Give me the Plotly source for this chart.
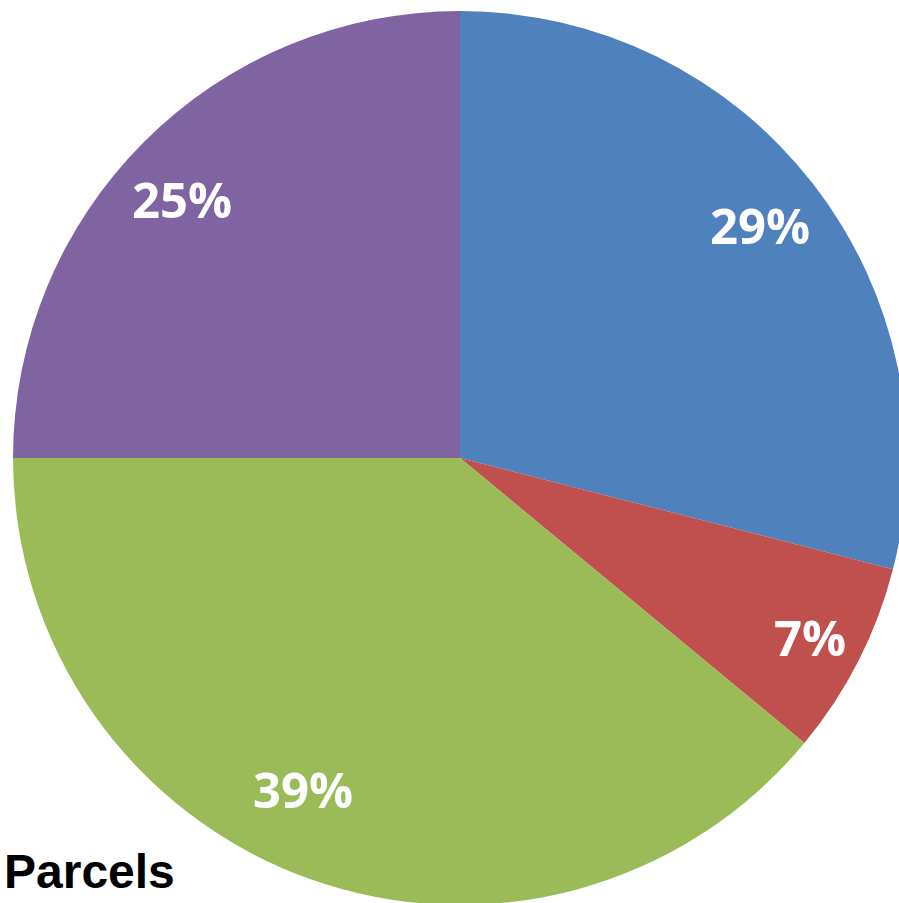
import math
import plotly.graph_objects as go

# parcel shares, clockwise from 12 o'clock
categories = ["A", "B", "C", "D"]
shares = [29, 7, 39, 25]
colors = ["#4F81BD", "#C0504D", "#9BBB59", "#8064A2"]
title = "Parcels"

# label placement (fraction of radius, angular nudge in degrees)
label_r = [0.85, 0.88, 0.82, 0.85]
label_nudge = [0, 0, 5.5, -2]

# figure a bit wider than the window: the pie runs off the right edge
W, H = 910, 906
cx, cy, r = 460, 458, 447  # pie centre and radius in px

fig = go.Figure()
fig.add_trace(go.Pie(
    labels=categories,
    values=shares,
    sort=False,
    direction="clockwise",
    rotation=0,
    marker=dict(colors=colors, line=dict(width=0)),
    textinfo="none",
    hoverinfo="label+value",
    showlegend=False,
    domain=dict(x=[(cx - r) / W, (cx + r) / W], y=[(H - cy - r) / H, (H - cy + r) / H]),
))

# percentage labels, placed from the cumulative shares
total = sum(shares)
cum = 0
for v, fr, nd in zip(shares, label_r, label_nudge):
    mid = (cum + v / 2) / total * 360 + nd
    cum += v
    px = cx + fr * r * math.sin(math.radians(mid))
    py = cy - fr * r * math.cos(math.radians(mid))
    fig.add_annotation(
        text=f"<b>{v}%</b>",
        xref="paper", yref="paper", x=px / W, y=1 - py / H,
        xanchor="center", yanchor="middle", showarrow=False,
        font=dict(family="Open Sans", size=49, color="white"),
    )

fig.add_annotation(
    text="<b>" + title + "</b>",
    xref="paper", yref="paper", x=2 / W, y=1 - 871 / H,
    xanchor="left", yanchor="middle", showarrow=False,
    font=dict(family="Liberation Sans, Arial", size=48, color="black"),
)

fig.update_layout(
    width=W, height=H,
    margin=dict(l=0, r=0, t=0, b=0),
    paper_bgcolor="white",
    plot_bgcolor="white",
)

fig.write_html(
    "out.html",
    config={"displayModeBar": False},
    post_script="document.body.style.margin='0';document.body.style.overflow='hidden';",
)
